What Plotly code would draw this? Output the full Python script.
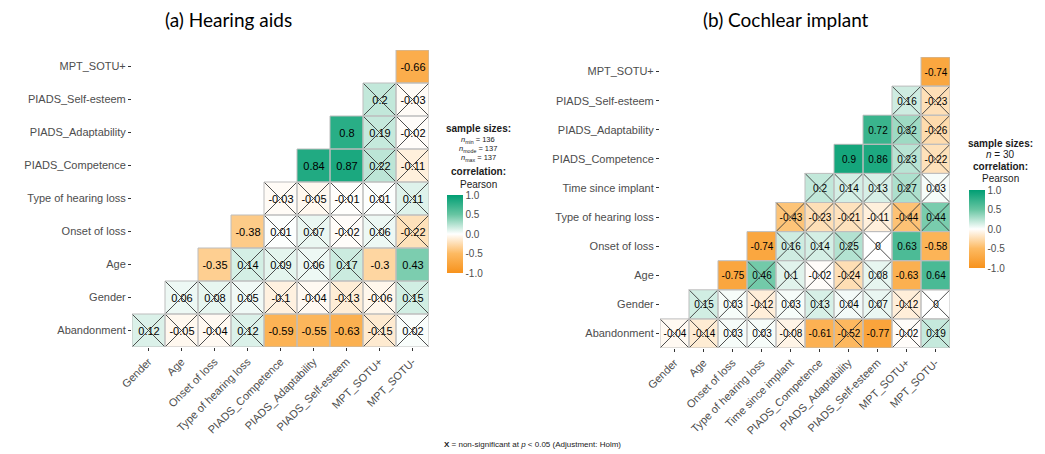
import numpy as np
import plotly.graph_objects as go

# ---------------- data ----------------
a_x = ["Gender", "Age", "Onset of loss", "Type of hearing loss", "PIADS_Competence",
       "PIADS_Adaptability", "PIADS_Self-esteem", "MPT_SOTU+", "MPT_SOTU-"]
a_y = ["Abandonment", "Gender", "Age", "Onset of loss", "Type of hearing loss",
       "PIADS_Competence", "PIADS_Adaptability", "PIADS_Self-esteem", "MPT_SOTU+"]
# row r (bottom-up) holds values for columns r..end
a_vals = [
    [0.12, -0.05, -0.04, 0.12, -0.59, -0.55, -0.63, -0.15, 0.02],
    [0.06, 0.08, 0.05, -0.1, -0.04, -0.13, -0.06, 0.15],
    [-0.35, 0.14, 0.09, 0.06, 0.17, -0.3, 0.43],
    [-0.38, 0.01, 0.07, -0.02, 0.06, -0.22],
    [-0.03, -0.05, -0.01, 0.01, 0.11],
    [0.84, 0.87, 0.22, -0.11],
    [0.8, 0.19, -0.02],
    [0.2, -0.03],
    [-0.66],
]
a_sig = [
    [0, 0, 0, 0, 1, 1, 1, 0, 0],
    [0, 0, 0, 0, 0, 0, 0, 0],
    [1, 0, 0, 0, 0, 1, 1],
    [1, 0, 0, 0, 0, 0],
    [0, 0, 0, 0, 0],
    [1, 1, 0, 0],
    [1, 0, 0],
    [0, 0],
    [1],
]

b_x = ["Gender", "Age", "Onset of loss", "Type of hearing loss", "Time since implant",
       "PIADS_Competence", "PIADS_Adaptability", "PIADS_Self-esteem", "MPT_SOTU+", "MPT_SOTU-"]
b_y = ["Abandonment", "Gender", "Age", "Onset of loss", "Type of hearing loss",
       "Time since implant", "PIADS_Competence", "PIADS_Adaptability", "PIADS_Self-esteem", "MPT_SOTU+"]
b_vals = [
    [-0.04, -0.14, 0.03, 0.03, -0.08, -0.61, -0.52, -0.77, -0.02, 0.19],
    [0.15, 0.03, -0.12, 0.03, 0.13, 0.04, 0.07, -0.12, 0],
    [-0.75, 0.46, 0.1, -0.02, -0.24, 0.08, -0.63, 0.64],
    [-0.74, 0.16, 0.14, 0.25, 0, 0.63, -0.58],
    [-0.43, -0.23, -0.21, -0.11, -0.44, 0.44],
    [0.2, 0.14, 0.13, 0.27, 0.03],
    [0.9, 0.86, 0.23, -0.22],
    [0.72, 0.32, -0.26],
    [0.16, -0.23],
    [-0.74],
]
b_sig = [
    [0, 0, 0, 0, 0, 1, 0, 1, 0, 0],
    [0, 0, 0, 0, 0, 0, 0, 0, 0],
    [1, 0, 0, 0, 0, 0, 1, 1],
    [1, 0, 0, 0, 0, 1, 1],
    [0, 0, 0, 0, 0, 0],
    [0, 0, 0, 0, 0],
    [1, 1, 0, 0],
    [1, 0, 0],
    [0, 0],
    [1],
]

W, H = 1045, 454
OFF = 8  # page body margin offset


def px(x):
    return (x - OFF) / W


def py(y):
    return 1 - (y - OFF) / H


colorscale = [[0.0, "#F7921C"], [0.25, "#FDBA62"], [0.5, "#FFFFFF"],
              [0.75, "#67C5A2"], [1.0, "#009E73"]]
FONT = "Liberation Sans, Arial, sans-serif"


def build(vals, sig, n):
    z = np.full((n, n), np.nan)
    txt = [["" for _ in range(n)] for _ in range(n)]
    sg = np.zeros((n, n), dtype=bool)
    for r, row in enumerate(vals):
        for k, v in enumerate(row):
            c = r + k
            z[r, c] = v
            txt[r][c] = f"{v:g}"
            sg[r, c] = bool(sig[r][k])
    return z, txt, sg


fig = go.Figure()
shapes = []
panels = [
    (a_x, a_y, a_vals, a_sig, "x", "y", "coloraxis", 11),
    (b_x, b_y, b_vals, b_sig, "x2", "y2", "coloraxis2", 10),
]
for xl, yl, vals, sig, xa, ya, ca, fs in panels:
    n = len(xl)
    z, txt, sg = build(vals, sig, n)
    idx = list(range(n))
    fig.add_trace(go.Heatmap(z=z, x=idx, y=idx, text=txt, texttemplate="%{text}",
                             textfont=dict(size=fs, color="black", family=FONT),
                             coloraxis=ca, xaxis=xa, yaxis=ya, hoverinfo="skip"))
    lx, ly = [], []
    for r in range(n):
        for c in range(n):
            if np.isnan(z[r, c]):
                continue
            shapes.append(dict(type="rect", xref=xa, yref=ya, x0=c - 0.5, x1=c + 0.5,
                               y0=r - 0.5, y1=r + 0.5, line=dict(color="#BDBDBD", width=1),
                               fillcolor="rgba(0,0,0,0)", layer="above"))
            if not sg[r, c]:
                lx += [c - 0.5, c + 0.5, None, c - 0.5, c + 0.5, None]
                ly += [r - 0.5, r + 0.5, None, r + 0.5, r - 0.5, None]
    fig.add_trace(go.Scatter(x=lx, y=ly, mode="lines", line=dict(color="#3A3A3A", width=0.9),
                             xaxis=xa, yaxis=ya, hoverinfo="skip", showlegend=False))

tickfont = dict(family=FONT, size=11, color="#4D4D4D")


def xax(dom, labels, anchor):
    return dict(domain=dom, range=[-0.5, len(labels) - 0.5], tickmode="array",
                tickvals=list(range(len(labels))), ticktext=labels, tickangle=-45,
                ticks="outside", ticklen=3, tickcolor="#333333", tickfont=tickfont,
                showgrid=False, zeroline=False, showline=False, fixedrange=True,
                automargin=False, anchor=anchor)


def yax(dom, labels, anchor):
    return dict(domain=dom, range=[-0.5, len(labels) - 0.5], tickmode="array",
                tickvals=list(range(len(labels))), ticktext=labels, anchor=anchor,
                ticks="outside", ticklen=3, tickcolor="#333333", tickfont=tickfont,
                showgrid=False, zeroline=False, showline=False, fixedrange=True,
                automargin=False)


def cbar(x0, ytop, ybot):
    return dict(x=px(x0), xanchor="left", y=py((ytop + ybot) / 2), yanchor="middle",
                len=(ybot - ytop), lenmode="pixels", thickness=16, thicknessmode="pixels",
                outlinewidth=0, tickmode="array", tickvals=[-1, -0.5, 0, 0.5, 1],
                ticktext=["-1.0", "-0.5", "0.0", "0.5", "1.0"], ticks="",
                tickfont=dict(family=FONT, size=10, color="#4D4D4D"), xpad=0, ypad=0)


fig.update_layout(
    width=W, height=H, margin=dict(l=0, r=0, t=0, b=0, autoexpand=False),
    paper_bgcolor="white", plot_bgcolor="white", showlegend=False,
    xaxis=xax([px(132), px(429)], a_x, "y"),
    yaxis=yax([py(347), py(50)], a_y, "x"),
    xaxis2=xax([px(660), px(950)], b_x, "y2"),
    yaxis2=yax([py(348), py(57)], b_y, "x2"),
    coloraxis=dict(colorscale=colorscale, cmin=-1, cmax=1, colorbar=cbar(447, 195, 273)),
    coloraxis2=dict(colorscale=colorscale, cmin=-1, cmax=1, colorbar=cbar(969, 190, 268)),
    shapes=shapes,
)

ann = []


def add(text, x, y, size, family=FONT, color="#1A1A1A"):
    ann.append(dict(text=text, x=px(x), y=py(y), xref="paper", yref="paper",
                    showarrow=False, xanchor="center", yanchor="middle",
                    font=dict(size=size, family=family, color=color)))


add("(a) Hearing aids", 228, 20, 19, family="Lato", color="black")
add("(b) Cochlear implant", 786, 20, 19, family="Lato", color="black")
add("<b>sample sizes:</b>", 478, 129, 10)
add("<i>n</i><sub>min</sub> = 136", 478, 140, 7.5)
add("<i>n</i><sub>mode</sub> = 137", 478, 149, 7.5)
add("<i>n</i><sub>max</sub> = 137", 478, 158, 7.5)
add("<b>correlation:</b>", 478, 172, 10)
add("Pearson", 478, 184, 10)
add("<b>sample sizes:</b>", 1000, 143, 10)
add("<i>n</i> = 30", 1000, 155, 10)
add("<b>correlation:</b>", 1000, 167, 10)
add("Pearson", 1000, 179, 10)
add("<b>X</b> = non-significant at <i>p</i> < 0.05 (Adjustment: Holm)", 532, 444, 8)
fig.update_layout(annotations=ann)

fig.write_html("out.html")
